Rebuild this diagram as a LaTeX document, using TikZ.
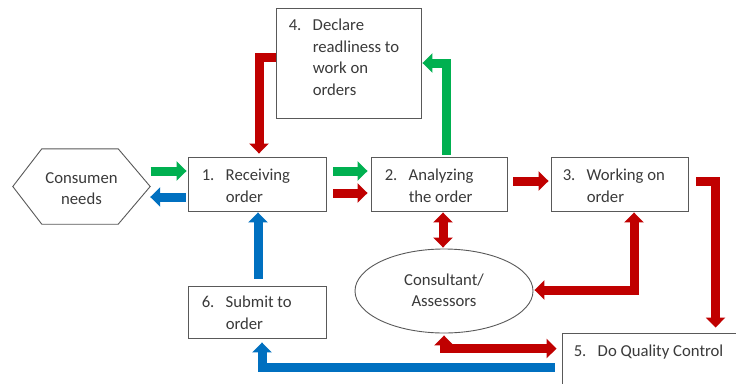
\documentclass[tikz,border=0pt]{standalone}
\usepackage{fontspec}
\setmainfont{Carlito}
\usetikzlibrary{arrows.meta,calc,shapes.geometric}
\definecolor{arrgreen}{HTML}{00B050}
\definecolor{arrred}{HTML}{C00000}
\definecolor{arrblue}{HTML}{0070C0}
\definecolor{txtgray}{HTML}{3A3A3A}
\definecolor{boxgray}{HTML}{595959}
\tikzset{
  stepbox/.style={draw=boxgray, line width=0.9pt, rectangle, inner sep=0pt, fill=white},
  lbl/.style={anchor=base west, inner sep=0pt, text=txtgray, font=\fontsize{16.7}{21.5}\selectfont},
  clbl/.style={anchor=base, inner sep=0pt, text=txtgray, font=\fontsize{16.7}{21.5}\selectfont},
  blockarr/.style={line width=9pt, line cap=butt, line join=miter, -{Triangle[width=19pt,length=10pt]}},
  dblarr/.style={line width=9pt, line cap=butt, line join=miter, {Triangle[width=19pt,length=10pt]}-{Triangle[width=19pt,length=10pt]}},
}
\newcommand{\numtext}[3]{\begin{tabular}[t]{@{}l@{}l@{}}\makebox[24pt][l]{#1}&#2\\ &#3\end{tabular}}
\begin{document}
\begin{tikzpicture}[x=1pt,y=-1pt]
\clip (0,0) rectangle (736,383);
\fill[white] (0,0) rectangle (736,383);
% hexagon
\node[inner sep=0pt, minimum width=137pt, minimum height=75pt] (hex) at (81.5,186.5) {};
\draw[boxgray, line width=0.9pt] (hex.west) -- ($(hex.north west)+(29,0)$) -- ($(hex.north east)+(-32,0)$) -- (hex.east) -- ($(hex.south east)+(-32,0)$) -- ($(hex.south west)+(29,0)$) -- cycle;
\node[clbl] (hextxt) at (81.5,183) {\begin{tabular}[t]{@{}c@{}}Consumen\\needs\end{tabular}};
% boxes
\node[stepbox, minimum width=138pt, minimum height=54pt] (b1) at (257,184) {};
\node[stepbox, minimum width=136pt, minimum height=54pt] (b2) at (439,184) {};
\node[stepbox, minimum width=137pt, minimum height=54pt] (b3) at (619.5,184) {};
\node[stepbox, minimum width=145pt, minimum height=110pt] (b4) at (348.5,63) {};
\node[stepbox, minimum width=184pt, minimum height=60pt] (b5) at (654,363) {};
\node[stepbox, minimum width=138pt, minimum height=52pt] (b6) at (257,312) {};
\node[draw=boxgray, line width=0.9pt, ellipse, inner sep=0pt, minimum width=178pt, minimum height=84pt, fill=white] (ell) at (444,291) {};
% labels
\node[lbl] (t1) at ($(b1.north west)+(14,24)$) {\numtext{1.}{Receiving}{order}};
\node[lbl] (t2) at ($(b2.north west)+(14,24)$) {\numtext{2.}{Analyzing}{the order}};
\node[lbl] (t3) at ($(b3.north west)+(12,24)$) {\numtext{3.}{Working on}{order}};
\node[lbl] (t4) at ($(b4.north west)+(13,23)$) {\begin{tabular}[t]{@{}l@{}l@{}}\makebox[24pt][l]{4.}&Declare\\ &readliness to\\ &work on\\ &orders\end{tabular}};
\node[lbl] (t5) at ($(b5.north west)+(12,24)$) {\makebox[24pt][l]{5.}Do Quality Control};
\node[lbl] (t6) at ($(b6.north west)+(14,22)$) {\numtext{6.}{Submit to}{order}};
\node[clbl] (te) at ($(ell.center)+(0,-6)$) {\begin{tabular}[t]{@{}c@{}}Consultant/\\Assessors\end{tabular}};
% connectors
\draw[blockarr, arrgreen] ($(b1.west)+(-37,-13)$) -- ($(b1.west)+(-1,-13)$);
\draw[blockarr, arrblue] ($(b1.west)+(-2,13)$) -- ($(hex.east)+(0,10.5)$);
\draw[blockarr, arrgreen] ($(b1.east)+(7,-13)$) -- ($(b2.west)+(-3,-13)$);
\draw[blockarr, arrred] ($(b1.east)+(7,9)$) -- ($(b2.west)+(-3,9)$);
\draw[blockarr, arrred] ($(b2.east)+(6,-3)$) -- ($(b3.west)+(-2,-3)$);
\draw[blockarr, arrred] ($(b4.west)+(0,-6)$) -| ($(b1.north)+(2,-3)$);
\draw[blockarr, arrgreen] ($(b2.north)+(7,-2)$) |- ($(b4.east)+(1,0)$);
\draw[dblarr, arrred] ($(b2.south)+(4,1)$) -- ($(ell.north)+(-1,-1)$);
\draw[blockarr, arrred] ($(b3.east)+(8,-3)$) -| ($(b5.north west)+(154,-5)$);
\draw[dblarr, arrred] ($(b3.south)+(14.5,1)$) |- ($(ell.east)+(1,-1)$);
\draw[dblarr, arrred] ($(ell.south)+(0,2)$) |- ($(b5.north west)+(-5,16)$);
\draw[blockarr, arrblue] ($(b5.north west)+(-7,35)$) -| ($(b6.south)+(5,4)$);
\draw[blockarr, arrblue] ($(b6.north)+(1,-7)$) -- ($(b1.south)+(1,1)$);
\end{tikzpicture}
\end{document}
